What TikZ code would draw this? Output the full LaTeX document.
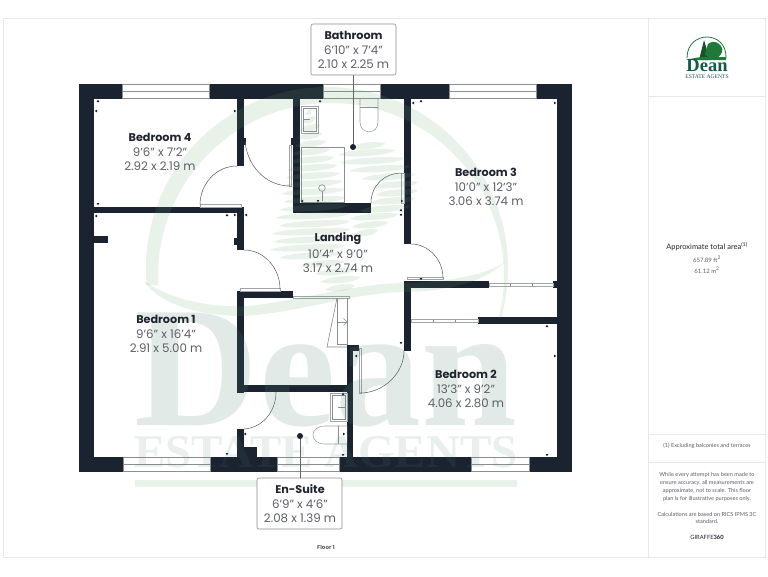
\documentclass[tikz,border=0pt]{standalone}
\usepackage{fontspec}
\setmainfont{Poppins}
\newfontfamily\wmfont{Liberation Serif}
\newfontfamily\panelfont{Lato}
\definecolor{wallc}{HTML}{1B2230}
\definecolor{framec}{HTML}{E8E8E8}
\definecolor{linec}{HTML}{8A8D92}
\definecolor{titlec}{HTML}{20242E}
\definecolor{dimc}{HTML}{5C5F66}
\definecolor{wmc}{HTML}{4F8474}
\definecolor{wmg}{HTML}{5FA56A}
\definecolor{logog}{HTML}{1F7A3A}
\definecolor{logod}{HTML}{14594A}
\tikzset{
  x=1pt,y=-1pt,
  wall/.style={fill=wallc,draw=none},
  thin line/.style={draw=linec,line width=0.6pt},
  door/.style={draw=wallc!75,line width=0.5pt},
  fixture/.style={draw=linec!80,line width=0.6pt,fill=white},
  roomtitle/.style={font=\bfseries\fontsize{11.2}{12}\selectfont,text=titlec,inner sep=0pt},
  roomdim/.style={font=\fontsize{11.8}{12}\selectfont,text=dimc,inner sep=0pt},
  callout/.style={draw=linec,line width=0.6pt,rounded corners=2pt,fill=white,minimum width=85pt,minimum height=51pt,inner sep=0pt},
  leader/.style={draw=linec!70!black,line width=0.7pt},
  dot/.style={circle,fill=wallc,minimum size=6pt,inner sep=0pt},
  paneltext/.style={font=\panelfont\fontsize{5.6}{6}\selectfont,text=dimc,inner sep=0pt},
  wm/.style={fill=wmc,fill opacity=0.17,draw=none},
  wmgreen/.style={fill=wmg,fill opacity=0.14,draw=none},
}
\newcommand{\roomlabel}[5]{%
  \node[roomtitle] (#1t) at (#2,#3) {#4};
  \node[roomdim] (#1a) at (#2,#3+15) {\csname dimA#1\endcsname};
  \node[roomdim] (#1b) at (#2,#3+29.5) {#5};
}
\newcommand{\mk}[4]{\fill[wallc] (#1+2.2*#3,#2+2.2*#4) -- (#1+1.4*#4,#2+1.4*#3) -- (#1-1.4*#4,#2-1.4*#3) -- cycle;}
\newcommand{\streak}[3]{\path[wmgreen] (#1,#3+2) .. controls (#1+8,#3-4) and (#2-8,#3-5) .. (#2,#3-3) .. controls (#2-3,#3+3) and (#1+8,#3+5) .. (#1,#3+2) -- cycle;}
\expandafter\def\csname dimAbd4\endcsname{9'6" x 7'2"}
\expandafter\def\csname dimAbd3\endcsname{10'0" x 12'3"}
\expandafter\def\csname dimAbd1\endcsname{9'6" x 16'4"}
\expandafter\def\csname dimAbd2\endcsname{13'3" x 9'2"}
\expandafter\def\csname dimAlan\endcsname{10'4" x 9'0"}
\expandafter\def\csname dimAbat\endcsname{6'10" x 7'4"}
\expandafter\def\csname dimAens\endcsname{6'9" x 4'6"}
\begin{document}
\begin{tikzpicture}
\useasboundingbox (0,0) rectangle (768,576);
\fill[white] (0,0) rectangle (768,576);
% frame
\draw[framec,line width=0.8pt] (3,18) rectangle (765,557);
\draw[framec,line width=0.8pt] (648,18) -- (648,557);
\draw[framec,line width=0.8pt] (648,96) -- (765,96);
\draw[framec,line width=0.8pt] (648,434) -- (765,434);
\draw[framec,line width=0.8pt] (648,462) -- (765,462);
% outer walls
\fill[wall] (78.5,83.5) rectangle (572,99);
\fill[wall] (78.5,457) rectangle (572,472);
\fill[wall] (78.5,83.5) rectangle (94,472);
\fill[wall] (557,83.5) rectangle (572,472);
% windows
\foreach \a/\b in {122/209,323/380,449/536}{
  \fill[white,draw=linec,line width=0.5pt] (\a,84) rectangle (\b,98.5);
  \draw[linec,line width=0.5pt] (\a,91.2) -- (\b,91.2);
}
\foreach \a/\b in {123/210,277/339,471/529}{
  \fill[white,draw=linec,line width=0.5pt] (\a,457.5) rectangle (\b,471.5);
  \draw[linec,line width=0.5pt] (\a,464.5) -- (\b,464.5);
}
% interior walls
\fill[wall] (237,99) rectangle (244,166);
\fill[wall] (244,138) rectangle (246,145);
\fill[wall] (94,207) rectangle (244,213);
\fill[wall] (237,207) rectangle (244,250);
\fill[wall] (234,238) rectangle (237,245);
\fill[wall] (94,236) rectangle (108,243);
\fill[wall] (237,291) rectangle (244,393);
\fill[wall] (237,291) rectangle (293,298);
\fill[wall] (237,385) rectangle (353,392);
\fill[wall] (347,345) rectangle (353,457);
\fill[wall] (347,345) rectangle (359,351);
\fill[wall] (237,429) rectangle (244,457);
\fill[wall] (237,447) rectangle (257,457);
\fill[wall] (293,99) rectangle (300,213);
\fill[wall] (291,138) rectangle (293,145);
\fill[wall] (293,203) rectangle (371,213);
\fill[wall] (404,99) rectangle (411,244);
\fill[wall] (404,281) rectangle (489,288);
\fill[wall] (404,281) rectangle (411,351);
\fill[wall] (478,317) rectangle (557,324);
\fill[wall] (553,281) rectangle (557,288);
% sliding doors and leaves
\draw[fixture] (489,283.5) rectangle (553,286);
\draw[linec,line width=0.4pt] (510,283.5) -- (510,286) (532,283.5) -- (532,286);
\draw[fixture] (411,319.5) rectangle (478,322);
\draw[linec,line width=0.4pt] (433,319.5) -- (433,322) (455,319.5) -- (455,322);
\draw[fixture] (200,204.5) rectangle (241,207);
\draw[fixture] (240,288) rectangle (280,291);
\draw[fixture] (289,145) rectangle (291.5,186);
\draw[fixture] (401,173) rectangle (404,203);
\draw[fixture] (407,277) rectangle (443,279.5);
\draw[fixture] (359,348) rectangle (361.5,393);
\draw[fixture] (293,296) rectangle (349,298.5);
% door arcs
\draw[door] (200,205) .. controls (200,184) and (216,166) .. (237,166);
\draw[door] (245,141) .. controls (247,165) and (265,186) .. (290,186);
\draw[door] (244,250) .. controls (264,250) and (280,268) .. (280,289);
\draw[door] (371,203) .. controls (371,186) and (384,173) .. (402,173);
\draw[door] (411,244) .. controls (428,244) and (443,259) .. (443,278);
\draw[door] (404,351) .. controls (404,373) and (384,393) .. (360,393);
\draw[door] (276,392) .. controls (276,412) and (262,428) .. (244,429);
% stairs
\draw[thin line] (337,298) -- (327,347) -- (347,347);
\draw[thin line] (337,298) -- (337,344) -- (347,344);
\draw[thin line] (347,298) -- (347,345);
\draw[thin line] (337,322) -- (347,322);
\draw[thin line] (343.5,318.5) -- (347,322) -- (343.5,325.5);
% bathroom fixtures
\draw[fixture] (301,106) rectangle (318,133);
\draw[thin line] (303,108) rectangle (316,131);
\draw[thin line] (303,119) -- (310,119);
\draw[thin line] (301,147) rectangle (344,202);
\draw[thin line] (322,191) -- (322,201);
\draw[thin line,fill=white] (322,188) circle (3.3);
\draw[fixture] (360,99) -- (360,122) .. controls (360,135) and (378,135) .. (378,122) -- (378,99);
\draw[thin line] (360,107) -- (378,107);
% en-suite fixtures
\draw[fixture] (330,393) rectangle (347,421);
\draw[thin line] (332,395) rectangle (345,419);
\draw[thin line] (338,407) -- (345,407);
\draw[fixture] (347,426) -- (325,426) .. controls (309,426) and (309,444) .. (325,444) -- (347,444);
\draw[thin line] (338,426) -- (338,444);
% dimension marks
\mk{98}{102}{0}{-1}\mk{97}{111}{-1}{0}\mk{234}{111}{1}{0}\mk{98}{203}{0}{1}
\mk{97}{216}{-1}{0}\mk{227}{216}{0}{-1}\mk{234}{215}{1}{0}\mk{247}{215}{-1}{0}
\mk{320}{102}{0}{-1}\mk{303}{201}{-1}{0}\mk{318}{200}{0}{1}
\mk{401}{201}{1}{0}\mk{401}{211}{0}{-1}\mk{401}{214}{0}{1}
\mk{414}{103}{-1}{0}\mk{421}{102}{0}{-1}\mk{554}{103}{1}{0}\mk{421}{278}{0}{1}
\mk{547}{327}{0}{-1}\mk{554}{356}{1}{0}\mk{547}{454}{0}{1}\mk{401}{342}{0}{1}\mk{357}{356}{-1}{0}
\mk{246}{434}{-1}{0}\mk{227}{453}{0}{1}\mk{343}{395}{0}{-1}\mk{343}{434}{1}{0}\mk{343}{454}{0}{1}
% watermark ring, clipped to the upper part
\begin{scope}
\clip (100,60) -- (560,60) -- (560,318) -- (490,318) -- (490,285) -- (100,285) -- cycle;
\path[wmgreen,even odd rule] (327,268) circle (181) (331,276) circle (173);
\end{scope}
\path[wmgreen] (143,280) .. controls (170,300) and (210,308) .. (250,306) .. controls (300,300) and (350,285) .. (400,283)
  .. controls (440,282) and (480,278) .. (505,262) .. controls (480,285) and (440,292) .. (400,292)
  .. controls (350,294) and (300,312) .. (245,316) .. controls (200,316) and (160,305) .. (143,280) -- cycle;
\path[wmgreen] (135,480) rectangle (517,487);
% tree
\foreach \a/\b/\c in {
 305/312/112, 302/316/120, 299/320/128, 297/322/136, 295/326/144, 292/330/152,
 290/334/160, 288/337/168, 286/340/176, 284/342/184, 282/344/192, 284/346/200,
 280/348/208, 276/350/216, 280/350/224, 272/350/232, 274/348/240, 270/345/248,
 280/340/256, 300/345/264, 315/355/272, 320/360/280, 325/355/288,
 350/385/146, 338/395/153, 340/405/161, 350/410/169, 362/415/177, 372/418/185,
 376/418/193, 370/415/201, 360/410/209, 350/398/217, 352/388/225, 352/378/233}{
  \streak{\a}{\b}{\c}
}
\node[font=\wmfont\bfseries\fontsize{172}{172}\selectfont,text=wmc,text opacity=0.17,inner sep=0pt,anchor=base] (wmdean) at (326,425) {Dean};
\node[font=\wmfont\bfseries\fontsize{47}{47}\selectfont,text=wmc,text opacity=0.13,inner sep=0pt,anchor=base] (wmest) at (326,467) {ESTATE AGENTS};
% labels
\roomlabel{bd4}{160}{137}{Bedroom 4}{2.92 x 2.19 m}
\roomlabel{bd3}{486}{172}{Bedroom 3}{3.06 x 3.74 m}
\roomlabel{lan}{338}{239}{Landing}{3.17 x 2.74 m}
\roomlabel{bd1}{166}{319}{Bedroom 1}{2.91 x 5.00 m}
\roomlabel{bd2}{466}{374}{Bedroom 2}{4.06 x 2.80 m}
% callouts
\node[dot] (bathdot) at (353,147) {};
\node[callout] (bathbox) at (353.5,49.5) {};
\draw[leader] (bathbox.south -| bathdot) -- (bathdot);
\node[dot] (ensdot) at (300,436) {};
\node[callout] (ensbox) at (299.5,503.5) {};
\draw[leader] (ensbox.north -| ensdot) -- (ensdot);
\roomlabel{bat}{353.5}{35}{Bathroom}{2.10 x 2.25 m}
\roomlabel{ens}{300}{489}{En-Suite}{2.08 x 1.39 m}
\node[font=\bfseries\fontsize{5.6}{7}\selectfont,text=dimc,inner sep=0pt] (floor) at (326,547) {Floor 1};
% logo
\draw[logog,line width=0.8pt] (687,58) .. controls (687,30) and (727,30) .. (726,58);
\fill[logog!70!black] (704,40) -- (699,60) -- (710,60) -- cycle;
\fill[logog] (708,44) .. controls (715,38) and (724,46) .. (722,52) .. controls (720,60) and (708,60) .. (705,54) -- cycle;
\fill[logog] (688,60) .. controls (700,55) and (715,58) .. (726,57) -- (726,60) -- (688,60) -- cycle;
\node[font=\wmfont\bfseries\fontsize{18.5}{18}\selectfont,text=logod,inner sep=0pt,anchor=base] (logoname) at (707,71.5) {Dean};
\node[font=\wmfont\fontsize{5.6}{6}\selectfont,text=logod,inner sep=0pt,anchor=base] (logosub) at (707,78) {ESTATE AGENTS};
% panel text
\node[font=\panelfont\fontsize{7.5}{8}\selectfont,text=titlec,inner sep=0pt] (areah) at (707,247) {Approximate total area\textsuperscript{(1)}};
\node[paneltext,font=\panelfont\fontsize{6}{7}\selectfont] (areaf) at (707,259) {657.89 ft\textsuperscript{2}};
\node[paneltext,font=\panelfont\fontsize{6}{7}\selectfont] (aream) at (707,270) {61.12 m\textsuperscript{2}};
\node[paneltext] (note) at (707,446) {(1) Excluding balconies and terraces};
\node[paneltext] (d1) at (707,475) {While every attempt has been made to};
\node[paneltext] (d2) at (707,483) {ensure accuracy, all measurements are};
\node[paneltext] (d3) at (707,491) {approximate, not to scale. This floor};
\node[paneltext] (d4) at (707,499) {plan is for illustrative purposes only.};
\node[paneltext] (d5) at (707,514) {Calculations are based on RICS IPMS 3C};
\node[paneltext] (d6) at (707,521) {standard.};
\node[font=\panelfont\fontsize{5.8}{6}\selectfont,text=titlec,inner sep=0pt] (giraffe) at (707,537) {GIRAFFE\textbf{360}};
\end{tikzpicture}
\end{document}
